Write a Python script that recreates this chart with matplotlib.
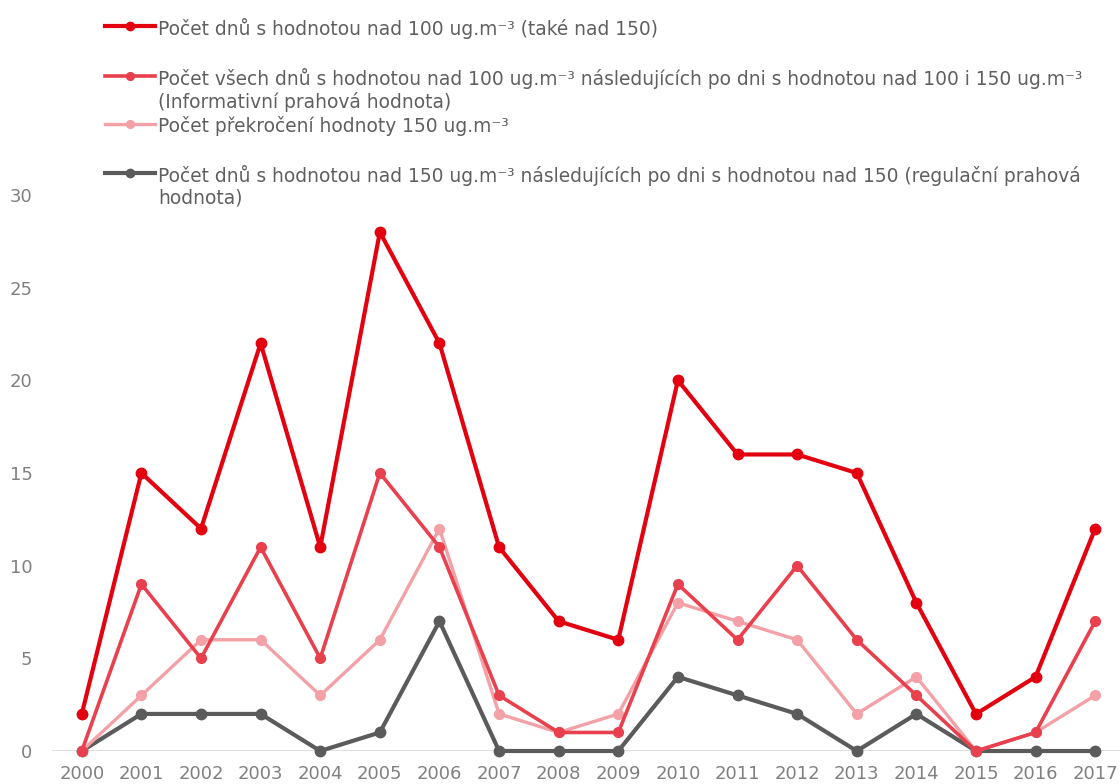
import matplotlib.pyplot as plt
from matplotlib.lines import Line2D

plt.rcParams['font.family'] = ['DejaVu Sans']

years = list(range(2000, 2018))
dny_nad_100 = [2, 15, 12, 22, 11, 28, 22, 11, 7, 6, 20, 16, 16, 15, 8, 2, 4, 12]
dny_info = [0, 9, 5, 11, 5, 15, 11, 3, 1, 1, 9, 6, 10, 6, 3, 0, 1, 7]
prekroceni_150 = [0, 3, 6, 6, 3, 6, 12, 2, 1, 2, 8, 7, 6, 2, 4, 0, 1, 3]
dny_regul = [0, 2, 2, 2, 0, 1, 7, 0, 0, 0, 4, 3, 2, 0, 2, 0, 0, 0]

labels = [
    "Počet dnů s hodnotou nad 100 ug.m⁻³ (také nad 150)",
    "Počet všech dnů s hodnotou nad 100 ug.m⁻³ následujících po dni s hodnotou nad 100 i 150 ug.m⁻³\n(Informativní prahová hodnota)",
    "Počet překročení hodnoty 150 ug.m⁻³",
    "Počet dnů s hodnotou nad 150 ug.m⁻³ následujících po dni s hodnotou nad 150 (regulační prahová\nhodnota)",
]
series = [dny_nad_100, dny_info, prekroceni_150, dny_regul]
colors = ["#e3000f", "#e8404c", "#f3a0a7", "#5b5b5b"]
widths = [3.0, 2.6, 2.4, 3.0]
msizes = [7.5, 7, 7, 7.5]

W, H = 1120, 784
fig = plt.figure(figsize=(W / 100, H / 100), dpi=100)
# axes spans one category width past the right edge, so 2017 is clipped
ax = fig.add_axes([52 / W, (H - 751) / H, 1073 / W, (751 - 195) / H])

x = list(range(len(years)))
for vals, c, lw, ms in zip(series, colors, widths, msizes):
    ax.plot(x, vals, color=c, lw=lw, marker="o", ms=ms, solid_joinstyle="round",
            zorder=3, clip_on=False)
# drawing order: grey underneath the reds
for ln, z in zip(ax.lines, [6, 5, 4, 3]):
    ln.set_zorder(z)

ax.set_xlim(-0.5, len(years) - 0.5)
ax.set_ylim(0, 30)
ax.set_yticks(range(0, 31, 5))
ax.set_xticks(x)
ax.set_xticklabels([str(y) for y in years])
ax.axhline(0, color="#d9d9d9", lw=1.2, zorder=1)
for s in ax.spines.values():
    s.set_visible(False)
ax.tick_params(axis="both", length=0, labelsize=13, labelcolor="#808080")
ax.tick_params(axis="y", pad=14)
ax.tick_params(axis="x", pad=10)
ax.patch.set_alpha(0)

# legend drawn by hand, entries stacked at the top
rows = [26, 76, 124, 173]
for y, lab, c, lw, ms in zip(rows, labels, colors, widths, msizes):
    yf = (H - y) / H
    fig.add_artist(Line2D([105 / W, 155 / W], [yf, yf], color=c, lw=lw,
                          transform=fig.transFigure))
    fig.add_artist(Line2D([130 / W], [yf], color=c, marker="o", ms=ms * 0.8,
                          transform=fig.transFigure))
    fig.text(158 / W, yf + 8 / H, lab, ha="left", va="top", fontsize=13.4,
             color="#5f5f5f", linespacing=1.18)

fig.savefig("out.png", dpi=100)
